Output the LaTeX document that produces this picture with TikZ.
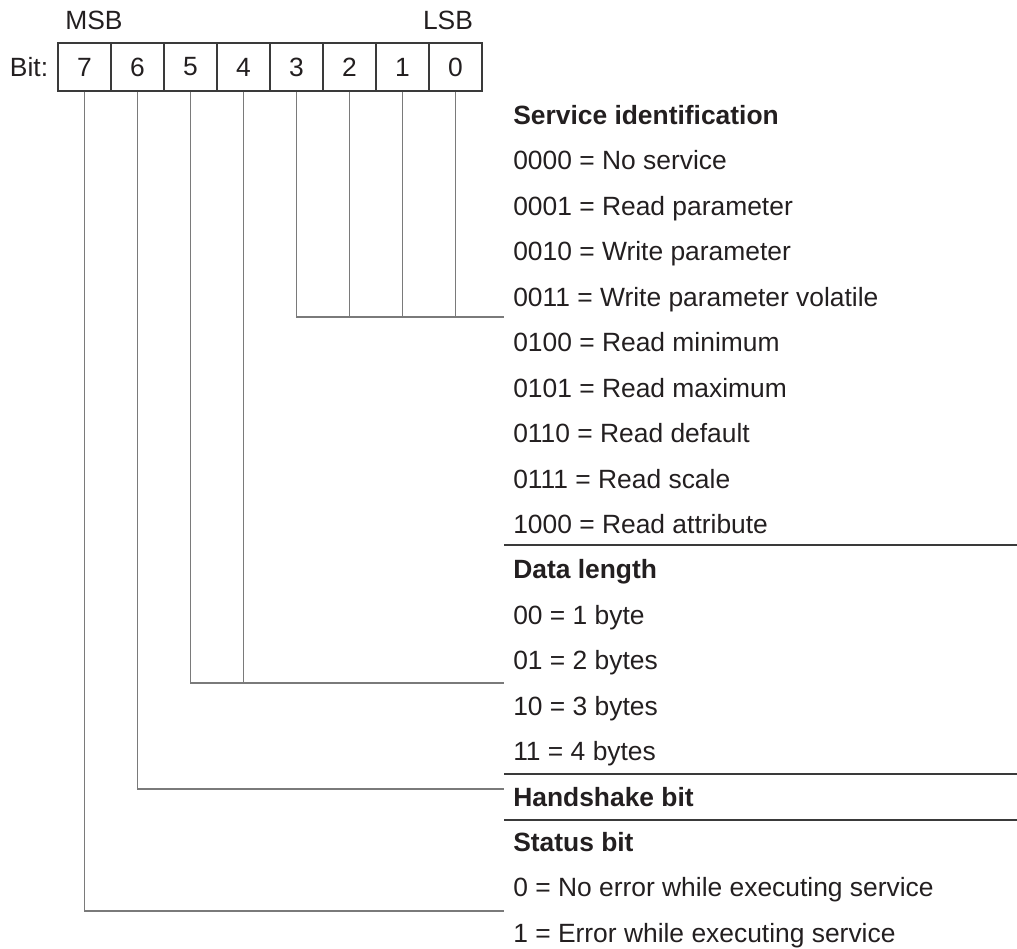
\documentclass[tikz,border=0pt]{standalone}
\usepackage{fontspec}
\setmainfont{Liberation Sans}
\usetikzlibrary{positioning}
\definecolor{bitgray}{HTML}{7A7A7A}
\definecolor{bitframe}{HTML}{3A3A3A}
\definecolor{bittext}{HTML}{231F20}
\newcommand{\diagfont}{\fontsize{19.8pt}{24pt}\selectfont}
\tikzset{
  % casella di un bit
  bitcell/.style={draw=bitframe, line width=0.9pt, minimum width=39.75pt,
    minimum height=36pt, inner sep=0pt, text=bittext, font=\diagfont},
  % etichette
  lbl/.style={inner sep=0pt, text=bittext, font=\diagfont},
  % righe della descrizione
  desc/.style={lbl, anchor=base west},
  head/.style={desc, font=\diagfont\bfseries},
  % linee di richiamo dei bit
  lead/.style={draw=bitgray, line width=1.2pt},
  % separatori tra i gruppi
  sepline/.style={draw=bitframe, line width=1.2pt},
}

\begin{document}
\begin{tikzpicture}[x=0.75pt, y=-0.75pt]
  \useasboundingbox (0,0) rectangle (1017,949);
  % caselle dei bit
  \foreach \b [count=\i from 0] in {7,...,0}
    \node[bitcell] (b\b) at ({84.5+53*\i},67) {\b};
  \node[lbl, left=6.75pt of b7] (bit) {Bit:};
  \node[lbl] (msb) at (94,20) {MSB};
  \node[lbl] (lsb) at (448,20) {LSB};
  % descrizioni
  \foreach \k/\t in {0/Service identification, 10/Data length, 15/Handshake bit, 16/Status bit}
    \node[head] (r\k) at (513,{124.5+45.44*\k}) {\t};
  \foreach \k/\t in {1/0000 = No service, 2/0001 = Read parameter, 3/0010 = Write parameter,
    4/0011 = Write parameter volatile, 5/0100 = Read minimum, 6/0101 = Read maximum,
    7/0110 = Read default, 8/0111 = Read scale, 9/1000 = Read attribute,
    11/00 = 1 byte, 12/01 = 2 bytes, 13/10 = 3 bytes, 14/11 = 4 bytes,
    17/0 = No error while executing service, 18/1 = Error while executing service}
    \node[desc] (r\k) at (513,{124.5+45.44*\k}) {\t};
  \foreach \y in {545,774,820} \draw[sepline] (504,\y) -- (1017,\y);
  % richiami
  \coordinate (g30) at (504,317);
  \coordinate (g54) at (504,683);
  \coordinate (g6) at (504,789);
  \coordinate (g7) at (504,911);
  \draw[lead] (b3.south) |- (g30);
  \foreach \b in {2,1,0} \draw[lead] (b\b.south) -- (b\b.south |- g30);
  \draw[lead] (b5.south) |- (g54);
  \draw[lead] (b4.south) -- (b4.south |- g54);
  \draw[lead] (b6.south) |- (g6);
  \draw[lead] (b7.south) |- (g7);
\end{tikzpicture}
\end{document}
